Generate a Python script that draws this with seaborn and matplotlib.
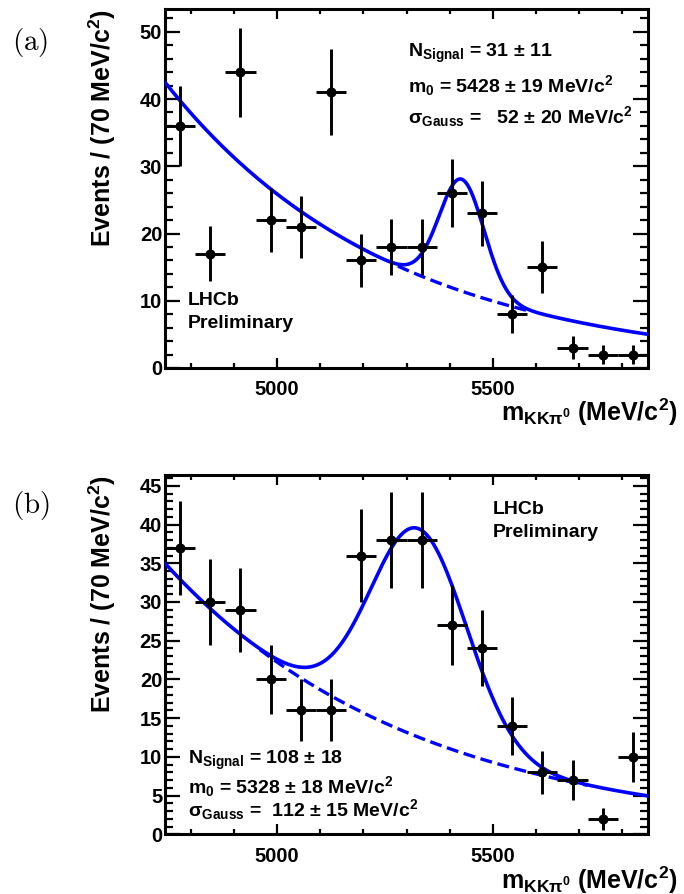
import numpy as np
import pandas as pd
import seaborn as sns
import matplotlib
matplotlib.use("Agg")
import matplotlib.pyplot as plt
from matplotlib.ticker import MultipleLocator, FixedLocator

# bin centres (70 MeV bins from 4740 to 5860)
mass = [4775, 4845, 4915, 4985, 5055, 5125, 5195, 5265,
        5335, 5405, 5475, 5545, 5615, 5685, 5755, 5825]

# panel (a)
counts_a = [36, 17, 44, 22, 21, 41, 16, 18, 18, 26, 23, 8, 15, 3, 2, 2]
err_a = [6.0, 4.1, 6.6, 4.7, 4.6, 6.4, 4.0, 4.2, 4.2, 5.1, 4.8, 2.8, 3.9, 1.7, 1.4, 1.4]
# fit: exponential background + gaussian
fit_a = dict(b0=42.5, slope=0.00191, nsig=31, m0=5428, sigma=52, dash=(5280, 5580))

# panel (b)
counts_b = [37, 30, 29, 20, 16, 16, 36, 38, 38, 27, 24, 14, 8, 7, 2, 10]
err_b = [6.1, 5.5, 5.4, 4.5, 4.0, 4.0, 6.0, 6.2, 6.2, 5.2, 4.9, 3.7, 2.8, 2.6, 1.4, 3.2]
fit_b = dict(b0=35.0, slope=0.001746, nsig=108, m0=5328, sigma=112, dash=(4960, 5720))

text_a = [r"$N_{Signal}$ = 31 ± 11",
          r"$m_{0}$ = 5428 ± 19 MeV/c$^{2}$",
          r"$σ_{Gauss}$ =   52 ± 20 MeV/c$^{2}$"]
text_b = [r"$N_{Signal}$ = 108 ± 18",
          r"$m_{0}$ = 5328 ± 18 MeV/c$^{2}$",
          r"$σ_{Gauss}$ =  112 ± 15 MeV/c$^{2}$"]

BIN = 70
XMIN, XMAX = 4740, 5860

sns.set_style("ticks")
plt.rcParams["font.family"] = ["Liberation Sans", "DejaVu Sans"]
plt.rcParams["font.weight"] = "bold"
plt.rcParams["mathtext.fontset"] = "custom"
plt.rcParams["mathtext.rm"] = "Liberation Sans:bold"
plt.rcParams["mathtext.it"] = "Liberation Sans:bold"
plt.rcParams["mathtext.bf"] = "Liberation Sans:bold"
plt.rcParams["mathtext.sf"] = "Liberation Sans:bold"
plt.rcParams["mathtext.default"] = "rm"
for k in ["text.color", "axes.labelcolor", "axes.edgecolor", "xtick.color", "ytick.color"]:
    plt.rcParams[k] = "black"

BLUE = "#0000ff"


def bkg(x, p):
    return p["b0"] * np.exp(-p["slope"] * (x - XMIN))


def total(x, p):
    amp = p["nsig"] * BIN / (np.sqrt(2 * np.pi) * p["sigma"])
    return bkg(x, p) + amp * np.exp(-0.5 * ((x - p["m0"]) / p["sigma"]) ** 2)


def draw_panel(ax, counts, err, p, ymax, ymaj, ymin_step):
    xs = np.linspace(XMIN, XMAX, 600)
    xd = np.linspace(p["dash"][0], p["dash"][1], 200)
    sns.lineplot(x=xd, y=bkg(xd, p), ax=ax, color=BLUE, lw=2.4,
                 linestyle=(0, (3.6, 1.7)), zorder=2)
    sns.lineplot(x=xs, y=total(xs, p), ax=ax, color=BLUE, lw=2.6, zorder=3)
    ax.errorbar(mass, counts, xerr=BIN / 2, yerr=err, fmt="none",
                ecolor="black", elinewidth=2.1, capsize=0, zorder=4)
    df = pd.DataFrame({"m": mass, "n": counts})
    sns.scatterplot(data=df, x="m", y="n", ax=ax, color="black", s=52,
                    edgecolor="black", linewidth=0, zorder=5)

    ax.set_xlim(XMIN, XMAX)
    ax.set_ylim(0, ymax)
    ax.xaxis.set_major_locator(FixedLocator([5000, 5500]))
    ax.xaxis.set_minor_locator(MultipleLocator(100))
    ax.yaxis.set_major_locator(MultipleLocator(ymaj))
    ax.yaxis.set_minor_locator(MultipleLocator(ymin_step))
    ax.tick_params(which="both", direction="in", top=True, right=True,
                   labelsize=14.5, width=1.6, colors="black")
    ax.tick_params(axis="y", which="major", length=11, pad=2)
    ax.tick_params(axis="y", which="minor", length=5.5)
    ax.tick_params(axis="x", which="major", length=7.5, pad=9)
    ax.tick_params(axis="x", which="minor", length=3.5)
    for lab in ax.get_xticklabels() + ax.get_yticklabels():
        lab.set_fontweight("bold")
    for s in ax.spines.values():
        s.set_linewidth(2.2)
        s.set_color("black")
        s.set_visible(True)

    ax.set_ylabel(r"Events / (70 MeV/c$^{2}$)", fontsize=18, fontweight="bold", loc="top")
    ax.yaxis.set_label_coords(-0.098, 1.0)
    ax.set_xlabel(r"$m_{KK\pi^0}$ (MeV/c$^{2}$)", fontsize=18, fontweight="bold", loc="right")
    ax.xaxis.label.set_va("center")


fig = plt.figure(figsize=(6.84, 8.94), dpi=100)
ax1 = fig.add_axes([0.2412, 0.5884, 0.7062, 0.4016])
ax2 = fig.add_axes([0.2412, 0.0668, 0.7062, 0.4019])

draw_panel(ax1, counts_a, err_a, fit_a, 53.4, 10, 2)
draw_panel(ax2, counts_b, err_b, fit_b, 46.4, 5, 1)
ax1.xaxis.set_label_coords(1.062, -0.123)
ax2.xaxis.set_label_coords(1.062, -0.127)

for t, yy in zip(text_a, [0.877, 0.788, 0.699]):
    ax1.text(0.5025, yy, t, transform=ax1.transAxes, fontsize=14,
             fontweight="bold", va="center", ha="left")
ax1.text(0.048, 0.189, "LHCb", transform=ax1.transAxes, fontsize=14,
         fontweight="bold", va="center")
ax1.text(0.048, 0.125, "Preliminary", transform=ax1.transAxes, fontsize=14,
         fontweight="bold", va="center")

for t, yy in zip(text_b, [0.207, 0.132, 0.068]):
    ax2.text(0.048, yy, t, transform=ax2.transAxes, fontsize=14,
             fontweight="bold", va="center", ha="left")
ax2.text(0.679, 0.903, "LHCb", transform=ax2.transAxes, fontsize=14,
         fontweight="bold", va="center")
ax2.text(0.679, 0.839, "Preliminary", transform=ax2.transAxes, fontsize=14,
         fontweight="bold", va="center")

fig.text(0.017, 0.953, r"$\mathrm{(a)}$", math_fontfamily="cm", fontsize=21, va="center")
fig.text(0.017, 0.435, r"$\mathrm{(b)}$", math_fontfamily="cm", fontsize=21, va="center")

fig.savefig("out.png", dpi=100)
